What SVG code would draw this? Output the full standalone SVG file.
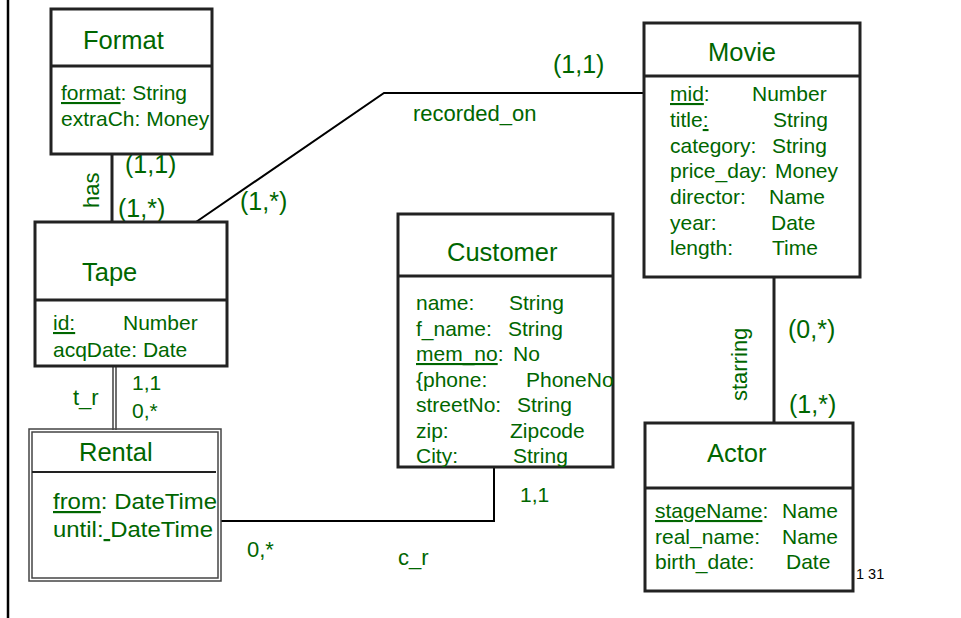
<svg xmlns="http://www.w3.org/2000/svg" width="961" height="618" viewBox="0 0 961 618">
  <style>
    .box { fill: #ffffff; stroke: #222222; stroke-width: 3; }
    .div { stroke: #222222; stroke-width: 3; }
    .wk { fill: none; stroke: #444444; stroke-width: 1.5; }
    .conn { fill: none; stroke: #000000; stroke-width: 2; }
    .thick { fill: none; stroke: #222222; stroke-width: 3; }
    text { font-family: "Liberation Sans", Arial, sans-serif; fill: #006600; }
    .title { font-size: 25.5px; }
    .attr { font-size: 21px; }
    .card { font-size: 25px; }
    .lbl { font-size: 22px; }
    .small { font-size: 21px; }
    .u { text-decoration: underline; }
  </style>

  <!-- page margin rule -->
  <line x1="8" y1="0" x2="8" y2="618" stroke="#000" stroke-width="2.5"/>

  <!-- relationships -->
  <g id="connectors">
    <line class="thick" x1="112" y1="154" x2="112" y2="222"/>
    <polyline class="conn" points="196,222 384,93 644,93"/>
    <line stroke="#222" stroke-width="1.3" x1="113" y1="366" x2="113" y2="430"/>
    <line stroke="#222" stroke-width="1.3" x1="116" y1="366" x2="116" y2="430"/>
    <polyline class="conn" points="221,521 494,521 494,467"/>
    <line class="thick" x1="774" y1="277" x2="774" y2="423"/>

    <text class="lbl" transform="translate(99,208) rotate(-90)">has</text>
    <text class="card" x="125" y="173">(1,1)</text>
    <text class="card" x="118" y="217">(1,*)</text>
    <text class="card" x="240" y="210">(1,*)</text>
    <text class="lbl" x="413" y="121">recorded_on</text>
    <text class="card" x="553" y="73">(1,1)</text>
    <text class="lbl" x="73" y="405">t_r</text>
    <text class="small" x="132" y="390">1,1</text>
    <text class="small" x="132" y="418">0,*</text>
    <text class="lbl" x="247" y="557">0,*</text>
    <text class="lbl" x="398" y="565">c_r</text>
    <text class="small" x="520" y="502">1,1</text>
    <text class="lbl" transform="translate(747,401) rotate(-90)">starring</text>
    <text class="card" x="788" y="338">(0,*)</text>
    <text class="card" x="789" y="413">(1,*)</text>
  </g>

  <g id="format">
    <rect class="box" x="51" y="9" width="161" height="145"/>
    <line class="div" x1="51" y1="66" x2="212" y2="66"/>
    <text class="title" x="83" y="49">Format</text>
    <text class="attr" x="61" y="100"><tspan class="u">format</tspan>: String</text>
    <text class="attr" x="61" y="126">extraCh: Money</text>
  </g>

  <g id="tape">
    <rect class="box" x="35" y="222" width="192" height="144"/>
    <line class="div" x1="35" y1="300" x2="227" y2="300"/>
    <text class="title" x="82" y="281">Tape</text>
    <text class="attr" x="53" y="330"><tspan class="u">id:</tspan><tspan x="123">Number</tspan></text>
    <text class="attr" x="53" y="357">acqDate: Date</text>
  </g>

  <g id="rental">
    <rect fill="#fff" class="wk" x="29" y="429" width="192" height="152"/>
    <rect class="wk" x="32" y="432" width="186" height="146"/>
    <line stroke="#222" stroke-width="2" x1="32" y1="472" x2="216" y2="472"/>
    <text class="title" x="79" y="461">Rental</text>
    <text class="attr" style="font-size:22px" x="53" y="509" textLength="164" lengthAdjust="spacingAndGlyphs"><tspan class="u">from</tspan>: DateTime</text>
    <text class="attr" style="font-size:22px" x="53" y="537" textLength="160" lengthAdjust="spacingAndGlyphs">until:<tspan class="u"> </tspan>DateTime</text>
  </g>

  <g id="customer">
    <rect class="box" x="398" y="214" width="215" height="253"/>
    <line class="div" x1="398" y1="276" x2="613" y2="276"/>
    <text class="title" x="447" y="261">Customer</text>
    <text class="attr" x="416" y="310">name:<tspan x="509">String</tspan></text>
    <text class="attr" x="416" y="335.5">f_name:<tspan x="508">String</tspan></text>
    <text class="attr" x="416" y="361"><tspan class="u">mem_no</tspan>:<tspan x="513">No</tspan></text>
    <text class="attr" x="416" y="386.5">{phone:<tspan x="526">PhoneNo</tspan></text>
    <text class="attr" x="416" y="412">streetNo:<tspan x="517">String</tspan></text>
    <text class="attr" x="416" y="437.5">zip:<tspan x="510">Zipcode</tspan></text>
    <text class="attr" x="416" y="463">City:<tspan x="513">String</tspan></text>
  </g>

  <g id="movie">
    <rect class="box" x="644" y="23" width="216" height="254"/>
    <line class="div" x1="644" y1="76" x2="860" y2="76"/>
    <text class="title" x="708" y="61">Movie</text>
    <text class="attr" x="670" y="101"><tspan class="u">mid</tspan>:<tspan x="752">Number</tspan></text>
    <text class="attr" x="670" y="127">title<tspan class="u">:</tspan><tspan x="773">String</tspan></text>
    <text class="attr" x="670" y="153">category:<tspan x="772">String</tspan></text>
    <text class="attr" x="670" y="178">price_day:<tspan x="775">Money</tspan></text>
    <text class="attr" x="670" y="204">director:<tspan x="769">Name</tspan></text>
    <text class="attr" x="670" y="230">year:<tspan x="771">Date</tspan></text>
    <text class="attr" x="670" y="255">length:<tspan x="772">Time</tspan></text>
  </g>

  <g id="actor">
    <rect class="box" x="645" y="423" width="208" height="168"/>
    <line class="div" x1="645" y1="488" x2="853" y2="488"/>
    <text class="title" x="707" y="462">Actor</text>
    <text class="attr" x="655" y="518"><tspan class="u">stageName</tspan>:<tspan x="782">Name</tspan></text>
    <text class="attr" x="655" y="544">real_name:<tspan x="782">Name</tspan></text>
    <text class="attr" x="655" y="569">birth_date:<tspan x="786">Date</tspan></text>
  </g>

  <text x="856" y="579" font-size="14.5" style="fill:#000">1 31</text>
</svg>
